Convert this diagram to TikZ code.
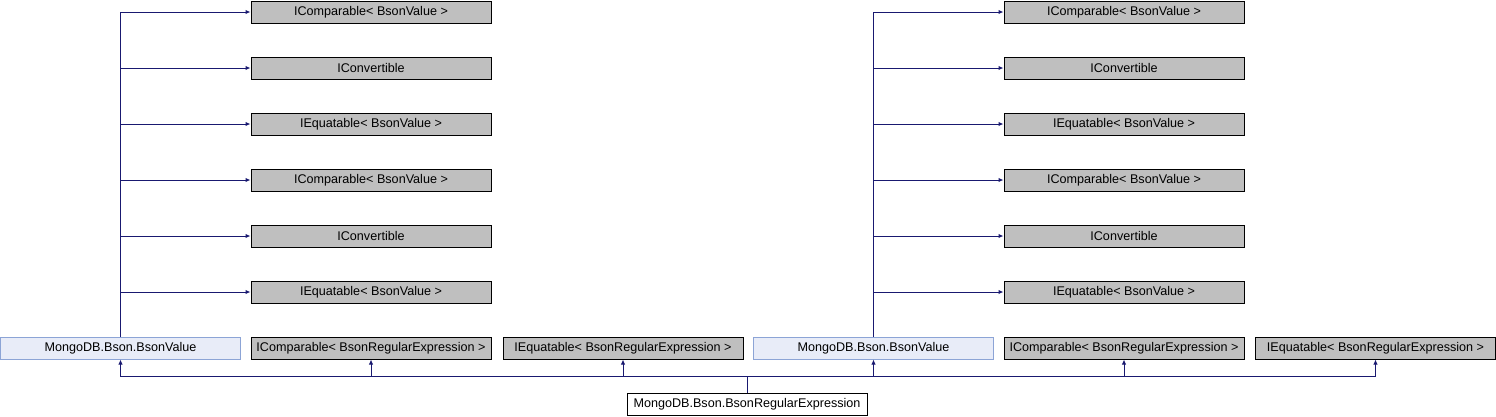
\documentclass[tikz,border=0pt]{standalone}
\usepackage{fontspec}
\setmainfont{Liberation Sans}
\usetikzlibrary{arrows.meta}
\definecolor{edgeblue}{HTML}{191970}
\definecolor{bvfill}{HTML}{E8ECF8}
\definecolor{bvline}{HTML}{8CA4D6}
\definecolor{ifill}{HTML}{BFBFBF}
\tikzset{
  box/.style={rectangle, minimum width=240pt, minimum height=22pt, inner sep=0pt, line width=1pt, font=\fontsize{12.6}{14}\selectfont},
  iface/.style={box, draw=black, fill=ifill},
  base/.style={box, draw=bvline, fill=bvfill},
  cls/.style={box, draw=black, fill=white},
  arr/.style={draw=edgeblue, line width=1pt, -{Latex[length=5pt,width=4.5pt]}},
}
\begin{document}
\begin{tikzpicture}[x=1pt,y=-1pt]
\useasboundingbox (0,0) rectangle (1496,416);
% left half
\node[base] (bvA) at (120.5,348) {MongoDB.Bson.BsonValue};
\node[iface] (icrA) at (371,348) {IComparable< BsonRegularExpression >};
\node[iface] (ierA) at (623,348) {IEquatable< BsonRegularExpression >};
\node[iface] (a1) at (371,12) {IComparable< BsonValue >};
\node[iface] (a2) at (371,68) {IConvertible};
\node[iface] (a3) at (371,124) {IEquatable< BsonValue >};
\node[iface] (a4) at (371,180) {IComparable< BsonValue >};
\node[iface] (a5) at (371,236) {IConvertible};
\node[iface] (a6) at (371,292) {IEquatable< BsonValue >};
% right half
\node[base] (bvB) at (873.5,348) {MongoDB.Bson.BsonValue};
\node[iface] (icrB) at (1124,348) {IComparable< BsonRegularExpression >};
\node[iface] (ierB) at (1375.5,348) {IEquatable< BsonRegularExpression >};
\node[iface] (b1) at (1124,12) {IComparable< BsonValue >};
\node[iface] (b2) at (1124,68) {IConvertible};
\node[iface] (b3) at (1124,124) {IEquatable< BsonValue >};
\node[iface] (b4) at (1124,180) {IComparable< BsonValue >};
\node[iface] (b5) at (1124,236) {IConvertible};
\node[iface] (b6) at (1124,292) {IEquatable< BsonValue >};
% bottom class
\node[cls] (rx) at (747,404) {MongoDB.Bson.BsonRegularExpression};
\coordinate (bus) at (747,376);
% edges
\foreach \t in {bvA,icrA,ierA,bvB,icrB,ierB}
  \draw[arr] (rx.north) -- (bus) -| (\t.south);
\foreach \t in {a1,a2,a3,a4,a5,a6}
  \draw[arr] (bvA.north) |- (\t.west);
\foreach \t in {b1,b2,b3,b4,b5,b6}
  \draw[arr] (bvB.north) |- (\t.west);
\end{tikzpicture}
\end{document}
